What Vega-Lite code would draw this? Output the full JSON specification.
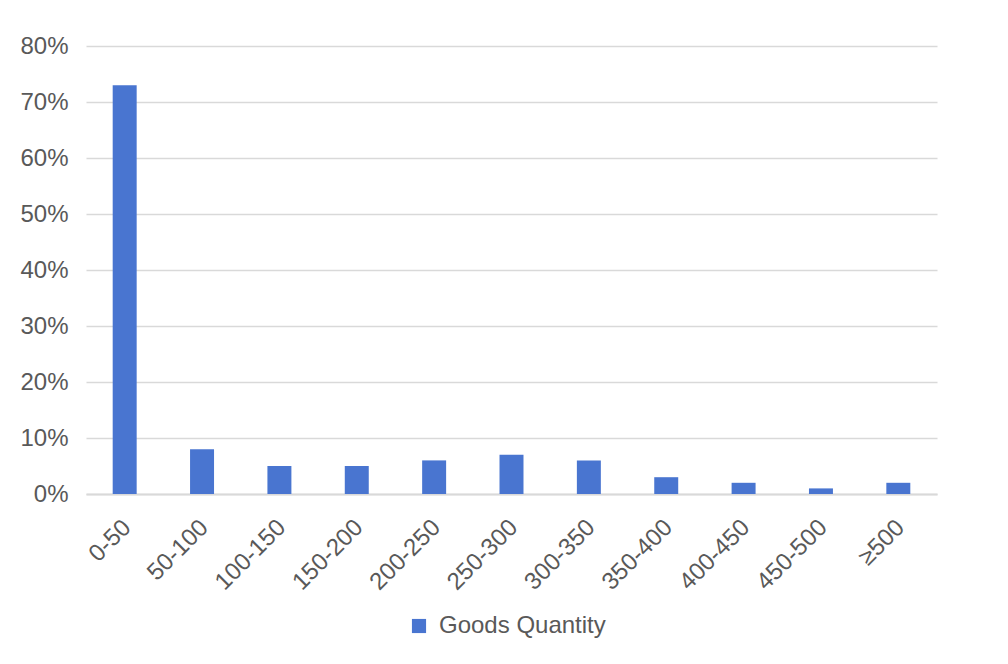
{
  "$schema": "https://vega.github.io/schema/vega-lite/v6.json",
  "width": 851,
  "height": 448,
  "autosize": "none",
  "padding": {"left": 86, "top": 46, "right": 71, "bottom": 170},
  "background": "white",
  "config": {
    "view": {"stroke": null},
    "font": "Liberation Sans"
  },
  "data": {
    "values": [
      {"range": "0-50", "share": 0.73, "series": "Goods Quantity"},
      {"range": "50-100", "share": 0.08, "series": "Goods Quantity"},
      {"range": "100-150", "share": 0.05, "series": "Goods Quantity"},
      {"range": "150-200", "share": 0.05, "series": "Goods Quantity"},
      {"range": "200-250", "share": 0.06, "series": "Goods Quantity"},
      {"range": "250-300", "share": 0.07, "series": "Goods Quantity"},
      {"range": "300-350", "share": 0.06, "series": "Goods Quantity"},
      {"range": "350-400", "share": 0.03, "series": "Goods Quantity"},
      {"range": "400-450", "share": 0.02, "series": "Goods Quantity"},
      {"range": "450-500", "share": 0.01, "series": "Goods Quantity"},
      {"range": "≥500", "share": 0.02, "series": "Goods Quantity"}
    ]
  },
  "mark": {"type": "bar"},
  "encoding": {
    "x": {
      "field": "range",
      "type": "nominal",
      "sort": null,
      "title": null,
      "scale": {"paddingInner": 0.69, "paddingOuter": 0.345},
      "axis": {
        "labelAngle": -45,
        "labelFontSize": 24,
        "labelColor": "#595959",
        "labelPadding": 21,
        "labelOffset": -6,
        "ticks": false,
        "domain": true,
        "domainColor": "#d9d9d9",
        "domainWidth": 2
      }
    },
    "y": {
      "field": "share",
      "type": "quantitative",
      "title": null,
      "scale": {"domain": [0, 0.8]},
      "axis": {
        "format": ".0%",
        "values": [0, 0.1, 0.2, 0.3, 0.4, 0.5, 0.6, 0.7, 0.8],
        "labelFontSize": 24,
        "labelColor": "#595959",
        "labelPadding": 18,
        "ticks": false,
        "domain": false,
        "gridColor": "#d9d9d9",
        "gridWidth": 1.5
      }
    },
    "color": {
      "field": "series",
      "type": "nominal",
      "title": null,
      "scale": {"range": ["#4975D0"]},
      "legend": {
        "orient": "none",
        "legendX": 321,
        "legendY": 568,
        "symbolType": "square",
        "symbolSize": 200,
        "labelFontSize": 24,
        "labelLimit": 400,
        "labelColor": "#595959",
        "labelOffset": 8
      }
    }
  }
}
